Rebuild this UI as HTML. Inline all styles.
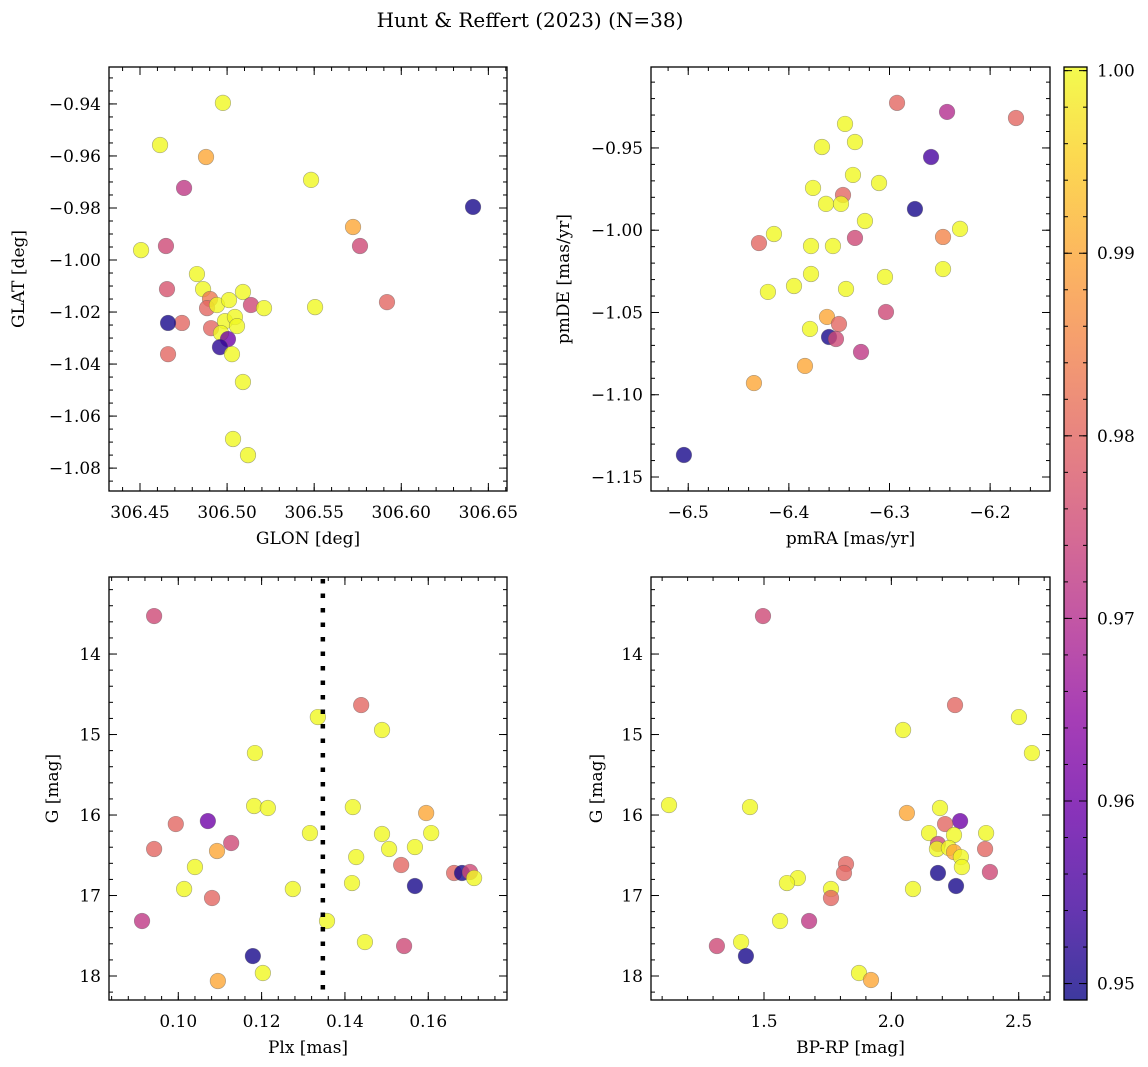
<!DOCTYPE html>
<html><head><meta charset="utf-8"><style>
html,body{margin:0;padding:0;background:#fff;}
svg{display:block;font-family:"DejaVu Serif","Liberation Serif",serif;}
</style></head><body>
<svg id="fig" width="1148" height="1067" viewBox="0 0 1148 1067" xmlns="http://www.w3.org/2000/svg">
<defs>
<linearGradient id="plasma" x1="0" y1="1" x2="0" y2="0">
<stop offset="0" stop-color="#0d0887"/><stop offset="0.1" stop-color="#41049d"/><stop offset="0.2" stop-color="#6a00a8"/><stop offset="0.3" stop-color="#8f0da4"/><stop offset="0.4" stop-color="#b12a90"/><stop offset="0.5" stop-color="#cc4778"/><stop offset="0.6" stop-color="#e16462"/><stop offset="0.7" stop-color="#f2844b"/><stop offset="0.8" stop-color="#fca636"/><stop offset="0.9" stop-color="#fcce25"/><stop offset="1" stop-color="#f0f921"/>
</linearGradient>
</defs>
<text x="530" y="27" font-size="20" text-anchor="middle">Hunt &amp; Reffert (2023) (N=38)</text>
</svg>
<script>
// ---- data: top-left (GLON vs GLAT) ----
const glon = [306.4976,306.4615,306.4879,306.4753,306.5482,306.4506,306.4649,306.5723,306.5763,306.6412,306.4655,306.4827,306.4862,306.4902,306.4885,306.4942,306.5011,306.5091,306.5137,306.5212,306.4741,306.4661,306.4908,306.4988,306.5045,306.5057,306.4965,306.5005,306.4959,306.5028,306.4661,306.5505,306.5918,306.5091,306.5034,306.5120];
const glat = [-0.9396,-0.9558,-0.9604,-0.9723,-0.9692,-0.9962,-0.9946,-0.9873,-0.9946,-0.9796,-1.0112,-1.0054,-1.0112,-1.0150,-1.0185,-1.0173,-1.0154,-1.0123,-1.0173,-1.0185,-1.0242,-1.0242,-1.0262,-1.0235,-1.0219,-1.0254,-1.0281,-1.0304,-1.0335,-1.0362,-1.0362,-1.0181,-1.0162,-1.0469,-1.0688,-1.0750];
const probTL = [1,1,0.99,0.972,1,1,0.975,0.99,0.975,0.95,0.977,1,1,0.983,0.98,1,1,1,0.975,1,0.98,0.95,0.98,1,1,1,1,0.96,0.952,1,0.98,1,0.98,1,1,1];
// ---- data: top-right (pmRA vs pmDE) ----
const pmra = [-6.2925,-6.1743,-6.2428,-6.3442,-6.3671,-6.3343,-6.2587,-6.3363,-6.3104,-6.3760,-6.3462,-6.3631,-6.3482,-6.2747,-6.3244,-6.4148,-6.4297,-6.3780,-6.3562,-6.3343,-6.2468,-6.2299,-6.2468,-6.3780,-6.3949,-6.4208,-6.3432,-6.3045,-6.3621,-6.3502,-6.3790,-6.3035,-6.3601,-6.3532,-6.3283,-6.3840,-6.4347,-6.5043];
const pmde = [-0.9226,-0.9318,-0.9281,-0.9354,-0.9494,-0.9464,-0.9555,-0.9664,-0.9713,-0.9743,-0.9786,-0.9840,-0.9840,-0.9871,-0.9944,-1.0023,-1.0078,-1.0096,-1.0096,-1.0047,-1.0041,-0.9992,-1.0236,-1.0266,-1.0339,-1.0375,-1.0357,-1.0284,-1.0527,-1.0570,-1.0600,-1.0497,-1.0649,-1.0661,-1.0740,-1.0825,-1.0929,-1.1366];
const probTR = [0.98,0.98,0.97,1,1,1,0.955,1,1,1,0.98,1,1,0.95,1,1,0.98,1,1,0.975,0.985,1,1,1,1,1,1,1,0.99,0.98,1,0.975,0.95,0.975,0.972,0.99,0.99,0.95];
// ---- data: bottom-left (Plx vs G) ----
const plx = [0.0942,0.1335,0.1439,0.1489,0.1184,0.1182,0.1215,0.1419,0.1595,0.0994,0.1071,0.1316,0.1489,0.1607,0.0942,0.1093,0.1127,0.1506,0.1568,0.1040,0.1427,0.1535,0.1014,0.1081,0.1275,0.1417,0.1568,0.1662,0.1681,0.1700,0.1710,0.0913,0.1357,0.1448,0.1542,0.1179,0.1203,0.1095];
const gmagBL = [13.528,14.783,14.634,14.944,15.230,15.888,15.913,15.901,15.975,16.112,16.075,16.224,16.236,16.224,16.422,16.447,16.348,16.422,16.398,16.646,16.522,16.621,16.919,17.031,16.919,16.845,16.882,16.720,16.720,16.708,16.783,17.317,17.317,17.578,17.627,17.752,17.963,18.062];
const probBL = [0.975,1,0.98,1,1,1,1,1,0.99,0.98,0.96,1,1,1,0.98,0.99,0.975,1,1,1,1,0.98,1,0.98,1,1,0.95,0.98,0.95,0.975,1,0.972,1,1,0.975,0.95,1,0.99];
const plxCut = [0.1347];
// ---- data: bottom-right (BP-RP vs G) ----
const bprp = [1.496,2.250,2.501,2.046,2.552,1.127,1.445,2.061,2.191,2.270,2.211,2.148,2.246,2.372,2.183,2.179,2.226,2.246,2.273,2.368,2.277,2.183,2.387,2.254,2.085,1.822,1.814,1.633,1.590,1.763,1.763,1.563,1.677,1.315,1.410,1.429,1.873,1.920];
const gmagBR = [13.528,14.634,14.783,14.944,15.230,15.876,15.901,15.975,15.913,16.075,16.112,16.224,16.248,16.224,16.360,16.422,16.410,16.460,16.522,16.422,16.646,16.720,16.708,16.882,16.919,16.609,16.720,16.783,16.845,16.919,17.031,17.317,17.317,17.627,17.578,17.752,17.963,18.050];
const probBR = [0.975,0.98,1,1,1,1,1,0.99,1,0.96,0.98,1,1,1,0.975,1,1,0.99,1,0.98,1,0.95,0.975,0.95,1,0.98,0.98,1,1,1,0.98,1,0.972,0.975,1,0.95,1,0.99];
// ---- ticks ----
const tlXTicks = [306.45,306.50,306.55,306.60,306.65];
const tlYTicks = [-0.94,-0.96,-0.98,-1.00,-1.02,-1.04,-1.06,-1.08];
const trXTicks = [-6.5,-6.4,-6.3,-6.2];
const trYTicks = [-0.95,-1.00,-1.05,-1.10,-1.15];
const blXTicks = [0.10,0.12,0.14,0.16];
const gTicks = [14,15,16,17,18];
const brXTicks = [1.5,2.0,2.5];
const cbTicks = [0.95,0.96,0.97,0.98,0.99,1.00];

const NS = "http://www.w3.org/2000/svg";
const svg = document.getElementById('fig');
const cmin = 0.9491, cmax = 1.0002;
const stops = [[13,8,135],[65,4,157],[106,0,168],[143,13,164],[177,42,144],[204,71,120],[225,100,98],[242,132,75],[252,166,54],[252,206,37],[240,249,33]];
function cmap(v){
  let t=(v-cmin)/(cmax-cmin); t=Math.max(0,Math.min(1,t));
  const f=t*10, i=Math.min(9,Math.floor(f)), r=f-i;
  const a=stops[i], b=stops[i+1];
  return 'rgb('+a.map((c,k)=>Math.round(c+(b[k]-c)*r)).join(',')+')';
}
function el(tag, attrs, parent){
  const e=document.createElementNS(NS,tag);
  for(const k in attrs) e.setAttribute(k,attrs[k]);
  (parent||svg).appendChild(e); return e;
}
function fmt(v,d){ return v.toFixed(d).replace('-','\u2212'); }

function panel(p){
  const g=el('g',{});
  
  
  const sx=v=>p.x+(v-p.xmin)/(p.xmax-p.xmin)*p.w;
  const sy=v=>{const f=(v-p.ymin)/(p.ymax-p.ymin); return p.inv? p.y+f*p.h : p.y+p.h-f*p.h;};
  p.sx=sx; p.sy=sy;
  // minor ticks
  const tk=el('g',{stroke:'#000','stroke-width':1},g);
  
  
  for(let v=Math.ceil(p.xmin/p.xm-1e-9)*p.xm; v<=p.xmax; v+=p.xm){
    const X=sx(v); el('line',{x1:X,x2:X,y1:p.y+p.h,y2:p.y+p.h-4},tk); el('line',{x1:X,x2:X,y1:p.y,y2:p.y+4},tk);
  }
  for(let v=Math.ceil(p.ymin/p.ym-1e-9)*p.ym; v<=p.ymax; v+=p.ym){
    const Y=sy(v); el('line',{x1:p.x,x2:p.x+4,y1:Y,y2:Y},tk); el('line',{x1:p.x+p.w,x2:p.x+p.w-4,y1:Y,y2:Y},tk);
  }
  p.xt.forEach(v=>{
    const X=sx(v);
    el('line',{x1:X,x2:X,y1:p.y+p.h,y2:p.y+p.h-8},tk); el('line',{x1:X,x2:X,y1:p.y,y2:p.y+8},tk);
    const t=el('text',{x:X,y:p.y+p.h+27,'font-size':17,'text-anchor':'middle'},g);
    t.textContent=fmt(v,p.xd);
    
    
  });
  p.yt.forEach(v=>{
    const Y=sy(v);
    el('line',{x1:p.x,x2:p.x+8,y1:Y,y2:Y},tk); el('line',{x1:p.x+p.w,x2:p.x+p.w-8,y1:Y,y2:Y},tk);
    const t=el('text',{x:p.x-8,y:Y+6,'font-size':17,'text-anchor':'end'},g);
    t.textContent=fmt(v,p.yd);
    
    
  });
  // points
  for(let i=0;i<p.xs.length;i++){
    const c=el('circle',{cx:sx(p.xs[i]),cy:sy(p.ys[i]),r:7.8,fill:cmap(p.cs[i]),'fill-opacity':0.8,stroke:'#555','stroke-opacity':0.5,'stroke-width':0.6},g);
    
    
  }
  if(p.extra) p.extra(g);
  const fr=el('rect',{x:p.x,y:p.y,width:p.w,height:p.h,fill:'none',stroke:'#000','stroke-width':1.3},g);
  
  
  const xl=el('text',{x:p.x+p.w/2,y:p.y+p.h+53,'font-size':17,'text-anchor':'middle'},g);
  xl.textContent=p.xlab;
  
  
  const yx=p.ylx, yy=p.y+p.h/2;
  const yl=el('text',{x:yx,y:yy,'font-size':17,'text-anchor':'middle',transform:'rotate(-90 '+yx+' '+yy+')'},g);
  yl.textContent=p.ylab;
  
  
}

panel({name:'glon-glat-panel',x:109,y:67,w:398,h:424,xmin:306.4322,xmax:306.6607,ymin:-1.0888,ymax:-0.9258,inv:false,
  xt:tlXTicks,yt:tlYTicks,xd:2,yd:2,xm:0.01,ym:0.005,xs:glon,ys:glat,cs:probTL,xlab:'GLON [deg]',ylab:'GLAT [deg]',ylx:24});
panel({name:'pm-panel',x:651,y:67,w:399,h:424,xmin:-6.537,xmax:-6.1405,ymin:-1.1585,ymax:-0.9008,inv:false,
  xt:trXTicks,yt:trYTicks,xd:1,yd:2,xm:0.02,ym:0.01,xs:pmra,ys:pmde,cs:probTR,xlab:'pmRA [mas/yr]',ylab:'pmDE [mas/yr]',ylx:569});
panel({name:'plx-g-panel',x:109,y:577,w:398,h:423,xmin:0.08337,xmax:0.1789,ymin:13.043,ymax:18.298,inv:true,
  xt:blXTicks,yt:gTicks,xd:2,yd:0,xm:0.004,ym:0.2,xs:plx,ys:gmagBL,cs:probBL,xlab:'Plx [mas]',ylab:'G [mag]',ylx:58,
  extra:function(g){ const self=this; }
});
panel({name:'color-g-panel',x:651,y:577,w:399,h:423,xmin:1.0563,xmax:2.6229,ymin:13.043,ymax:18.298,inv:true,
  xt:brXTicks,yt:gTicks,xd:1,yd:0,xm:0.1,ym:0.2,xs:bprp,ys:gmagBR,cs:probBR,xlab:'BP-RP [mag]',ylab:'G [mag]',ylx:602});

// parallax cut line
(function(){
  const xmin=0.08337,xmax=0.1789;
  const X=109+(plxCut[0]-xmin)/(xmax-xmin)*398;
  const l=el('line',{x1:X,x2:X,y1:579,y2:1000,stroke:'#000','stroke-width':4.5,'stroke-dasharray':'4.5 10'});
  
  
})();

// colorbar
(function(){
  const x=1064,y=67,w=23,h=933;
  const g=el('g',{});
  
  
  el('rect',{x:x,y:y,width:w,height:h,fill:'url(#plasma)',opacity:0.8},g);
  const sy=v=>y+h-(v-cmin)/(cmax-cmin)*h;
  for(let v=0.950; v<=1.0001; v+=0.002){
    const Y=sy(v); el('line',{x1:x,x2:x+4,y1:Y,y2:Y,stroke:'#000'},g); el('line',{x1:x+w,x2:x+w-4,y1:Y,y2:Y,stroke:'#000'},g);
  }
  cbTicks.forEach(v=>{
    const Y=sy(v);
    el('line',{x1:x,x2:x+8,y1:Y,y2:Y,stroke:'#000'},g); el('line',{x1:x+w,x2:x+w-8,y1:Y,y2:Y,stroke:'#000'},g);
    const t=el('text',{x:x+w+10,y:Y+6,'font-size':17},g);
    t.textContent=v.toFixed(2);
    
    
  });
  el('rect',{x:x,y:y,width:w,height:h,fill:'none',stroke:'#000','stroke-width':1.3},g);
})();
</script>
</body></html>
